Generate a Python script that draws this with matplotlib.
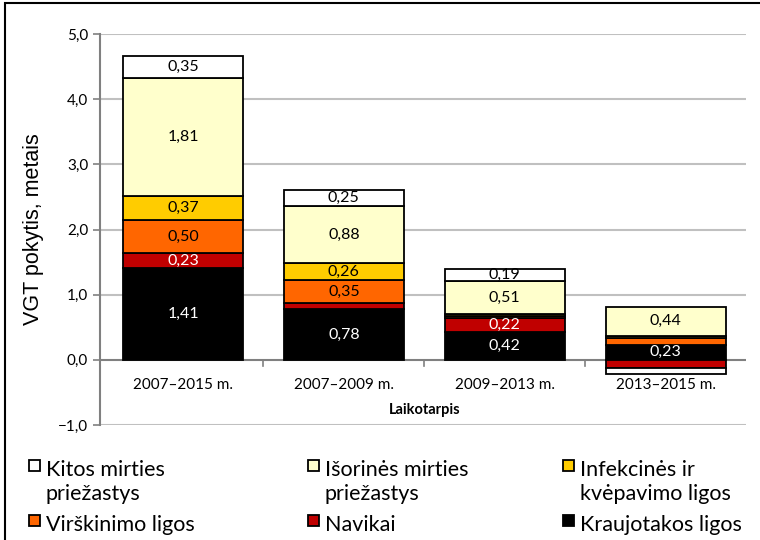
import numpy as np
import matplotlib.pyplot as plt
from matplotlib.patches import Rectangle

# categories and series (bottom to top of each stack)
periods = ['2007–2015 m.', '2007–2009 m.', '2009–2013 m.', '2013–2015 m.']
series = ['Kraujotakos ligos', 'Navikai', 'Virškinimo ligos',
          'Infekcinės ir\nkvėpavimo ligos', 'Išorinės mirties\npriežastys',
          'Kitos mirties\npriežastys']
kraujotakos = [1.41, 0.78, 0.42, 0.23]
navikai = [0.23, 0.09, 0.22, -0.12]
virskinimo = [0.50, 0.35, 0.03, 0.10]
infekcines = [0.37, 0.26, 0.03, 0.04]
isorines = [1.81, 0.88, 0.51, 0.44]
kitos = [0.35, 0.25, 0.19, -0.10]
yticks = [-1, 0, 1, 2, 3, 4, 5]

values = [kraujotakos, navikai, virskinimo, infekcines, isorines, kitos]
colors = ['#000000', '#C00000', '#FF6600', '#FFCC00', '#FFFFCC', '#FFFFFF']
text_colors = ['white', 'white', 'black', 'black', 'black', 'black']

fig = plt.figure(figsize=(7.6, 5.4), dpi=100)
ax = fig.add_axes([0.1316, 0.213, 0.8500, 0.724])

x = np.arange(len(periods))
pos_bottom = np.zeros(len(periods))
neg_bottom = np.zeros(len(periods))
for vals, col, tcol in zip(values, colors, text_colors):
    vals = np.array(vals)
    bottom = np.where(vals >= 0, pos_bottom, neg_bottom)
    ax.bar(x, vals, width=0.747, bottom=bottom, color=col,
           edgecolor='black', linewidth=1.3, zorder=3)
    for xi, v, b in zip(x, vals, bottom):
        if abs(v) >= 0.15:
            ax.text(xi, b + v / 2, f'{v:.2f}'.replace('.', ','), ha='center',
                    va='center', color=tcol, fontsize=11.5, family='Lato',
                    zorder=4)
    pos_bottom += np.where(vals >= 0, vals, 0)
    neg_bottom += np.where(vals < 0, vals, 0)

ax.set_xlim(-0.516, 3.5)
ax.set_ylim(-1, 5)
ax.set_yticks(yticks)
ax.set_yticklabels([f'{t:.1f}'.replace('.', ',').replace('-', '−') for t in yticks],
                   family='Lato', fontsize=11)
ax.tick_params(axis='y', length=5, color='#808080', width=1.2)
ax.set_xticks([])
for t in yticks:
    if t != 0:
        ax.axhline(t, color='#C0C0C0', lw=1.5, zorder=1)
ax.axhline(0, color='#808080', lw=1.5, zorder=2)
for b in [0.5, 1.5, 2.5]:
    ax.plot([b, b], [0, -0.1], color='#808080', lw=1.2, zorder=2, clip_on=False)

for s in ['top', 'right', 'bottom']:
    ax.spines[s].set_visible(False)
ax.spines['left'].set_color('#808080')
ax.spines['left'].set_linewidth(1.5)

for xi, p in zip(x, periods):
    ax.text(xi, -0.38, p, ha='center', va='center', family='Lato', fontsize=11)
ax.text(1.5, -0.77, 'Laikotarpis', ha='center', va='center', family='Lato',
        fontsize=10.5, fontweight='bold')
ax.set_ylabel('VGT pokytis, metais', family='Liberation Sans', fontsize=15.5,
              labelpad=10)

# legend, three columns
legend_order = [5, 4, 3, 2, 1, 0]
col_x = [0.038, 0.405, 0.741]
row_y = [1 - 466 / 540, 1 - 521 / 540]
for k, idx in enumerate(legend_order):
    cx = col_x[k % 3]
    ry = row_y[k // 3]
    fig.patches.append(Rectangle((cx, ry - 0.010), 0.0145, 0.0205,
                                 transform=fig.transFigure, facecolor=colors[idx],
                                 edgecolor='black', linewidth=1.3))
    fig.text(cx + 0.022, ry + 0.012, series[idx], ha='left', va='top',
             family='Lato', fontsize=15.5, linespacing=1.3)

fig.patches.append(Rectangle((0.007, -0.1), 1.1, 1.094, transform=fig.transFigure,
                             facecolor='none', edgecolor='black', linewidth=1.5))

fig.savefig('out.png', dpi=100)
